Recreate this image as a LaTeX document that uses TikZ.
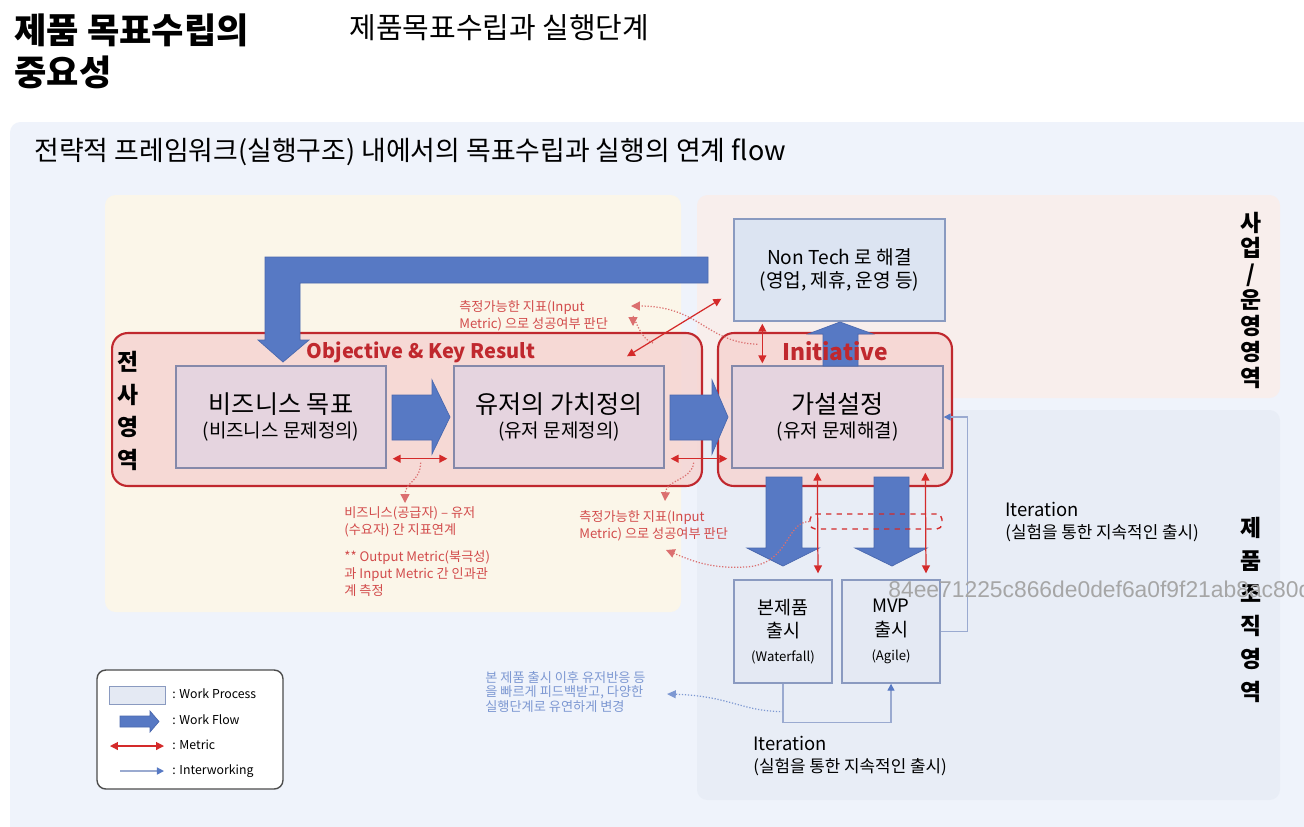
\documentclass[tikz,border=0pt]{standalone}
\usepackage{fontspec}
\setmainfont{Noto Sans CJK KR}
\newfontfamily\wmfont{Liberation Sans}
\usetikzlibrary{arrows.meta}

\definecolor{wfblue}{HTML}{5779C4}
\definecolor{wfedge}{HTML}{4A68AE}
\definecolor{metred}{HTML}{D42A2A}
\definecolor{okrred}{HTML}{C0282E}
\definecolor{okrfill}{HTML}{F6D5D2}
\definecolor{procfill}{HTML}{E5D4DF}
\definecolor{procedge}{HTML}{8589AA}
\definecolor{techfill}{HTML}{DCE4F2}
\definecolor{techedge}{HTML}{8A9AC0}
\definecolor{lowfill}{HTML}{E4E9F3}
\definecolor{paneblue}{HTML}{EFF3FB}
\definecolor{creambg}{HTML}{FBF6E9}
\definecolor{pinkbg}{HTML}{F8EEEC}
\definecolor{prodbg}{HTML}{E8EDF6}
\definecolor{linkblue}{HTML}{9AAAD0}
\definecolor{notered}{HTML}{D24B4B}
\definecolor{noteblue}{HTML}{7D98D2}

\newcommand{\subfs}{\fontsize{10.8}{12}\selectfont}
\newcommand{\tinyfs}{\fontsize{7.5}{9}\selectfont}

\tikzset{
  procbox/.style={draw=procedge, fill=procfill, line width=0.8pt, minimum width=4.2cm,
    minimum height=2.04cm, inner sep=0pt, align=center, font=\fontsize{14.3}{14}\selectfont},
  techbox/.style={draw=techedge, fill=techfill, line width=0.8pt, minimum width=4.22cm,
    minimum height=2.04cm, inner sep=0pt, align=center, font=\fontsize{10.9}{13}\selectfont},
  relbox/.style={draw=techedge, fill=lowfill, line width=0.8pt, minimum width=1.96cm,
    minimum height=2.06cm, inner sep=0pt, align=center, font=\fontsize{10.5}{13.5}\selectfont},
  okrzone/.style={draw=okrred, fill=okrfill, fill opacity=0.85, line width=1.2pt,
    rounded corners=9pt, minimum height=3.06cm, inner sep=0pt},
  wflow/.style={fill=wfblue, draw=wfedge, line width=0.4pt},
  metric/.style={draw=metred, line width=0.7pt,
    {Triangle[length=4.5pt,width=4.5pt]}-{Triangle[length=4.5pt,width=4.5pt]}},
  notelink/.style={draw=notered!80, densely dotted, line width=0.7pt,
    -{Triangle[length=5pt,width=5pt]}},
  bluenote/.style={draw=noteblue, densely dotted, line width=0.7pt,
    -{Triangle[length=5pt,width=4.5pt]}},
  iwork/.style={draw=linkblue, line width=0.8pt, -{Triangle[length=4pt,width=4pt,color=wfblue]}},
  note/.style={text=notered, align=left, inner sep=0pt, font=\fontsize{7.5}{9.7}\selectfont},
  zonelabel/.style={align=center, inner sep=0pt, font=\bfseries\fontsize{13}{18.6}\selectfont},
  legendtxt/.style={anchor=west, inner sep=0pt, font=\fontsize{7}{8}\selectfont}
}

\begin{document}
\begin{tikzpicture}[x=0.02cm, y=-0.02cm]
\useasboundingbox (0,0) rectangle (1304,826);

% backgrounds
\fill[white] (0,0) rectangle (1304,826);
\fill[paneblue, rounded corners=6pt] (10,122) rectangle (1330,850);
\fill[creambg, rounded corners=6pt] (105,195) rectangle (681,612);
\fill[pinkbg, rounded corners=6pt] (697,195) rectangle (1280,398);
\fill[prodbg, rounded corners=6pt] (697,410) rectangle (1280,800);

% titles
\node[anchor=west, align=left, inner sep=0pt, font=\bfseries\fontsize{20}{24}\selectfont] (title) at (14,51) {제품 목표수립의\\중요성};
\node[anchor=west, inner sep=0pt, font=\fontsize{16.5}{18}\selectfont] (subtitle) at (349,28) {제품목표수립과 실행단계};
\node[anchor=west, inner sep=0pt, font=\fontsize{15.3}{17}\selectfont] (heading) at (34,152) {전략적 프레임워크(실행구조) 내에서의 목표수립과 실행의 연계 flow};

% zones
\node[okrzone, minimum width=11.8cm] (okr) at (407,409.5) {};
\node[okrzone, minimum width=4.68cm] (init) at (835,409.5) {};

% process boxes
\node[procbox] (bizgoal) at (281,417) {비즈니스 목표\\{\subfs (비즈니스 문제정의)}};
\node[procbox] (uservalue) at (559,417) {유저의 가치정의\\{\subfs (유저 문제정의)}};
\node[procbox, minimum width=4.22cm] (hypo) at (837.5,417) {가설설정\\{\subfs (유저 문제해결)}};
\node[techbox] (nontech) at (839.5,270) {Non Tech 로 해결\\(영업, 제휴, 운영 등)};
\node[relbox] (waterfall) at (783,631.5) {본제품\\출시\\{\tinyfs (Waterfall)}};
\node[relbox] (mvp) at (891,631.5) {MVP\\출시\\{\tinyfs (Agile)}};

% work flow arrows
\draw[wflow] (708,257) -- (265,257) -- (265,340) -- (258,340) -- (283,362) -- (309,340)
  -- (300,340) -- (300,283) -- (708,283) -- cycle;
\draw[wflow] (392,395) -- (432,395) -- (432,380) -- (450,417) -- (432,454) -- (432,440) -- (392,440) -- cycle;
\draw[wflow] (670,395) -- (712,395) -- (712,380) -- (728,417) -- (712,454) -- (712,440) -- (670,440) -- cycle;
\draw[wflow] (823,366) -- (823,334) -- (808,334) -- (840,322) -- (873,334) -- (858,334) -- (858,366) -- cycle;
\draw[wflow] (766,477) -- (802,477) -- (802,548) -- (819,548) -- (783,566) -- (747,548) -- (766,548) -- cycle;
\draw[wflow] (874,477) -- (909,477) -- (909,548) -- (927,548) -- (892,566) -- (855,548) -- (874,548) -- cycle;

% zone titles
\node[font=\bfseries\fontsize{11.4}{14}\selectfont, text=okrred] (okrlabel) at (421,352) {Objective \& Key Result};
\node[font=\bfseries\fontsize{13}{16}\selectfont, text=okrred] (initlabel) at (835,351) {Initiative};

\node[zonelabel] (corpzone) at (128,411) {전\\사\\영\\역};
\node[zonelabel, font=\bfseries\fontsize{13}{14.7}\selectfont] (bizzone) at (1251,300) {사\\업\\/\\운\\영\\영\\역};
\node[zonelabel] (prodzone) at (1251,610) {제\\품\\조\\직\\영\\역};

% metrics
\draw[metric] ([shift={(6,-10)}]bizgoal.south east) -- ([shift={(-6,-10)}]uservalue.south west);
\draw[metric] ([shift={(6,-10)}]uservalue.south east) -- ([shift={(-4,-10)}]hypo.south west);
\draw[metric] ([shift={(29,2)}]nontech.south west) -- ([shift={(31,-2)}]hypo.north west);
\draw[metric] ([shift={(68,-9)}]uservalue.north) -- ([shift={(-12,-23)}]nontech.south west);
\draw[metric] ([shift={(86,4)}]hypo.south west) -- ([shift={(35,-6)}]waterfall.north);
\draw[metric] ([shift={(194,4)}]hypo.south west) -- ([shift={(35,-6)}]mvp.north);
\node[draw=metred, dashed, rounded corners=3pt, line width=0.8pt, minimum width=2.64cm,
  minimum height=0.3cm, inner sep=0pt] (iterzone) at (876,521.5) {};

% notes
\node[note, anchor=west] (noteA) at (459,316) {측정가능한 지표(Input\\Metric) 으로 성공여부 판단};
\node[note, anchor=north west] (noteB) at (344,506) {비즈니스(공급자) – 유저\\(수요자) 간 지표연계\\[6pt]** Output Metric(북극성)\\과 Input Metric 간 인과관\\계 측정};
\node[note, anchor=west] (noteC) at (579,525.5) {측정가능한 지표(Input\\Metric) 으로 성공여부 판단};
\node[note, text=noteblue, font=\fontsize{7.5}{8.5}\selectfont, anchor=west] (noteD) at (485,692) {본 제품 출시 이후 유저반응 등\\을 빠르게 피드백받고, 다양한\\실행단계로 유연하게 변경};

\coordinate (tipA1) at (631,306);
\coordinate (tipA2) at (633,326);
\coordinate (tipB) at (405,503);
\coordinate (tipC1) at (665,501);
\coordinate (tipC2) at (666,550);
\coordinate (tipD) at (667,694);

\draw[notelink] ([shift={(26,-21)}]hypo.north west) .. controls (705,342) and (700,306) .. (tipA1);
\draw[notelink] ([shift={(-50,11)}]okr.north east) .. controls (640,340) and (633,312) .. (tipA2);
\draw[notelink] ([shift={(34,-6)}]bizgoal.south east) .. controls (420,482) and (405,482) .. (tipB);
\draw[notelink] ([shift={(29,-6)}]uservalue.south east) .. controls (692,480) and (666,480) .. (tipC1);
\draw[notelink] (iterzone.west) .. controls (785,522) and (790,565) .. (745,567)
  .. controls (710,569) and (690,560) .. (tipC2);
\draw[bluenote] ([shift={(0,28)}]waterfall.south) .. controls (740,711) and (730,696) .. (tipD);

% iteration links
\draw[iwork] (waterfall.south) -- ++(0,39) -| (mvp.south);
\draw[iwork] (mvp.east) -- ++(27,0) |- (hypo.east);
\node[anchor=west, align=left, inner sep=0pt, font=\fontsize{10.5}{12}\selectfont] (iterA) at (1005,522)
  {Iteration\\{\fontsize{9.6}{11}\selectfont(실험을 통한 지속적인 출시)}};
\node[anchor=west, align=left, inner sep=0pt, font=\fontsize{10.5}{12}\selectfont] (iterB) at (753,756)
  {Iteration\\{\fontsize{9.6}{11}\selectfont(실험을 통한 지속적인 출시)}};

% legend
\node[draw=black!70, rounded corners=5pt, line width=0.8pt, fill=white, minimum width=3.72cm,
  minimum height=2.38cm] (legend) at (190,729.5) {};
\node[draw=techedge, fill=lowfill, minimum width=1.12cm, minimum height=0.36cm, inner sep=0pt] (lgproc) at (137,695) {};
\draw[wflow] (120,716) -- (150,716) -- (150,711) -- (159,721.5) -- (150,732) -- (150,727) -- (120,727) -- cycle;
\coordinate (lgm1) at (110,746);
\coordinate (lgm2) at (164,746);
\draw[metric] (lgm1) -- (lgm2);
\coordinate (lgi1) at (120,771);
\coordinate (lgi2) at (164,771);
\draw[iwork] (lgi1) -- (lgi2);
\node[legendtxt] (lgt1) at (172,694) {: Work Process};
\node[legendtxt] (lgt2) at (172,720) {: Work Flow};
\node[legendtxt] (lgt3) at (172,745) {: Metric};
\node[legendtxt] (lgt4) at (172,771) {: Interworking};

% watermark
\node[anchor=west, inner sep=0pt, text=black!35, font=\wmfont\fontsize{13}{15}\selectfont] (wmark) at (888,589) {84ee71225c866de0def6a0f9f21ab8ac80d70};
\end{tikzpicture}
\end{document}
